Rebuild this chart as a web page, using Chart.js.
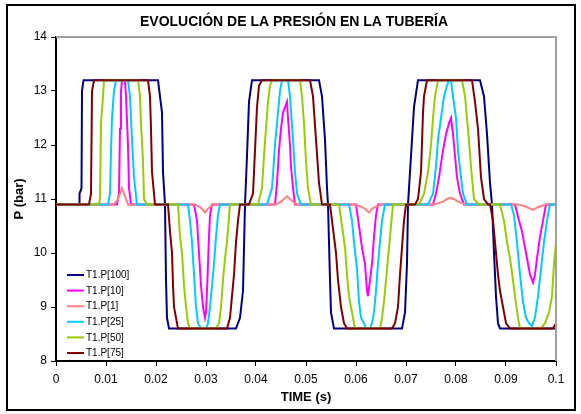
<!DOCTYPE html>
<html>
<head>
<meta charset="utf-8">
<script src="https://cdn.jsdelivr.net/npm/chart.js@4.4.0/dist/chart.umd.min.js"></script>
<style>
  html, body { margin: 0; padding: 0; background: #fff; }
</style>
</head>
<body>
<canvas id="chart" width="581" height="414"></canvas>
<script>
// series names and colours, in the order of the legend
const seriesLabels = ['T1.P[100]', 'T1.P[10]', 'T1.P[1]', 'T1.P[25]', 'T1.P[50]', 'T1.P[75]'];
const seriesColors = ['#000080', '#FF00FF', '#FF8080', '#00CCFF', '#99CC00', '#800000'];
const xTickLabels = ['0', '0.01', '0.02', '0.03', '0.04', '0.05', '0.06', '0.07', '0.08', '0.09', '0.1'];

// [time (s), pressure (bar)]
const P100 = [
  [0, 10.9], [0.0046, 10.9], [0.0047, 11.1], [0.0051, 11.2], [0.0052, 13.0], [0.0055, 13.2],
  [0.0204, 13.2], [0.0208, 12.9], [0.0212, 12.6], [0.0214, 11.5], [0.0218, 10.9], [0.022, 9.5], [0.0222, 8.8], [0.0226, 8.6],
  [0.036, 8.6], [0.0368, 8.8], [0.0374, 9.3], [0.0378, 10.9], [0.0382, 11.8], [0.0386, 12.8], [0.0392, 13.2],
  [0.0526, 13.2], [0.0532, 12.9], [0.0538, 12.1], [0.0542, 11.2], [0.0544, 10.9], [0.0548, 9.5], [0.055, 8.9], [0.0556, 8.6],
  [0.0692, 8.6], [0.0698, 8.9], [0.0702, 9.8], [0.0704, 10.9], [0.071, 11.8], [0.0716, 12.7], [0.0724, 13.2],
  [0.0848, 13.2], [0.0856, 12.9], [0.0862, 12.2], [0.0868, 11.3], [0.0872, 10.9], [0.0876, 10.0], [0.088, 9.2], [0.0884, 8.7], [0.0888, 8.6],
  [0.1, 8.6]
];
const P10 = [
  [0, 10.9], [0.0122, 10.9], [0.0126, 11.1], [0.0128, 12.3], [0.013, 13.0], [0.0132, 13.2], [0.0138, 13.2], [0.014, 12.9], [0.0144, 12.0], [0.0146, 11.2], [0.015, 10.9],
  [0.0276, 10.9], [0.0282, 10.6], [0.0286, 10.0], [0.029, 9.4], [0.0294, 9.0], [0.0298, 8.8], [0.03, 8.9], [0.0302, 9.3], [0.0304, 9.8], [0.0306, 10.3], [0.0308, 10.7], [0.0312, 10.9],
  [0.0438, 10.9], [0.0442, 11.3], [0.0446, 11.9], [0.045, 12.3], [0.0454, 12.6], [0.0458, 12.7], [0.0462, 12.8], [0.0464, 12.5], [0.0468, 12.0], [0.047, 11.6], [0.0474, 11.2], [0.0478, 10.9],
  [0.06, 10.9], [0.0606, 10.5], [0.0612, 10.1], [0.0618, 9.8], [0.0622, 9.3], [0.0624, 9.2], [0.0628, 9.5], [0.0632, 9.8], [0.0636, 10.3], [0.064, 10.7], [0.0644, 10.9],
  [0.0754, 10.9], [0.076, 11.1], [0.0766, 11.4], [0.0774, 11.9], [0.078, 12.2], [0.0786, 12.4], [0.079, 12.5], [0.0794, 12.2], [0.0798, 11.8], [0.0802, 11.4], [0.0808, 11.1], [0.0816, 10.9],
  [0.0918, 10.9], [0.0926, 10.6], [0.0932, 10.4], [0.0938, 10.1], [0.0944, 9.8], [0.0948, 9.6], [0.0954, 9.45], [0.0958, 9.6], [0.0962, 9.9], [0.0968, 10.3], [0.0974, 10.6], [0.098, 10.9],
  [0.1, 10.9]
];
const P1 = [
  [0, 10.9], [0.0116, 10.9], [0.0124, 11.0], [0.0128, 11.1], [0.0132, 11.2], [0.0136, 11.1], [0.014, 11.0], [0.0144, 10.9],
  [0.0278, 10.9], [0.0288, 10.85], [0.0294, 10.8], [0.0298, 10.75], [0.0302, 10.8], [0.0308, 10.85], [0.0314, 10.9],
  [0.044, 10.9], [0.045, 10.95], [0.0456, 11.0], [0.0462, 11.05], [0.0468, 11.0], [0.0474, 10.95], [0.0482, 10.9],
  [0.0594, 10.9], [0.0608, 10.87], [0.0618, 10.82], [0.0626, 10.75], [0.0632, 10.82], [0.0642, 10.87], [0.0654, 10.9],
  [0.0758, 10.9], [0.0774, 10.95], [0.0782, 11.0], [0.0788, 11.02], [0.0796, 11.0], [0.0804, 10.95], [0.082, 10.9],
  [0.0924, 10.9], [0.0936, 10.87], [0.0944, 10.84], [0.0954, 10.8], [0.0962, 10.84], [0.097, 10.87], [0.0982, 10.9],
  [0.1, 10.9]
];
const P25 = [
  [0, 10.9], [0.0104, 10.9], [0.0108, 11.1], [0.011, 11.9], [0.0112, 12.5], [0.0116, 13.0], [0.012, 13.2], [0.0144, 13.2], [0.0148, 12.9], [0.0152, 12.1], [0.0156, 11.4], [0.0162, 10.9],
  [0.0264, 10.9], [0.0268, 10.6], [0.0272, 10.2], [0.0276, 9.6], [0.028, 9.0], [0.0284, 8.7], [0.029, 8.6], [0.03, 8.6], [0.0304, 8.7], [0.0308, 9.0], [0.0312, 9.4], [0.0316, 9.8], [0.032, 10.3], [0.0324, 10.7], [0.0328, 10.9],
  [0.0422, 10.9], [0.0432, 11.2], [0.0438, 12.0], [0.0444, 12.6], [0.0448, 13.0], [0.0452, 13.2], [0.0464, 13.2], [0.0468, 12.9], [0.0474, 12.1], [0.0478, 11.5], [0.0482, 11.1], [0.049, 10.9],
  [0.0586, 10.9], [0.0592, 10.6], [0.0596, 10.2], [0.0602, 9.7], [0.0606, 9.1], [0.061, 8.8], [0.0616, 8.7], [0.062, 8.6], [0.0628, 8.6], [0.0632, 8.7], [0.0636, 8.9], [0.064, 9.3], [0.0644, 9.8], [0.0648, 10.2], [0.0652, 10.6], [0.0658, 10.9],
  [0.0744, 10.9], [0.0754, 11.1], [0.076, 11.6], [0.0764, 12.1], [0.077, 12.5], [0.0776, 12.9], [0.0782, 13.1], [0.0786, 13.2], [0.079, 13.2], [0.0794, 12.9], [0.08, 12.5], [0.0804, 11.9], [0.081, 11.4], [0.0814, 11.1], [0.0822, 10.9],
  [0.091, 10.9], [0.0916, 10.7], [0.0922, 10.2], [0.0928, 9.6], [0.0934, 9.1], [0.094, 8.8], [0.0946, 8.7], [0.0952, 8.65], [0.0958, 8.8], [0.0964, 9.2], [0.097, 9.7], [0.0976, 10.2], [0.0982, 10.6], [0.0988, 10.9],
  [0.1, 10.9]
];
const P50 = [
  [0, 10.9], [0.0086, 10.9], [0.0088, 11.0], [0.009, 12.4], [0.0094, 12.9], [0.0096, 13.2], [0.0164, 13.2], [0.0168, 12.9], [0.017, 12.4], [0.0174, 11.7], [0.0176, 11.0], [0.0182, 10.9],
  [0.0244, 10.9], [0.0248, 10.3], [0.0252, 10.0], [0.0256, 9.4], [0.026, 9.0], [0.0264, 8.7], [0.0268, 8.6], [0.032, 8.6], [0.0326, 8.7], [0.033, 9.0], [0.0334, 9.5], [0.0338, 9.9], [0.0342, 10.2], [0.0348, 10.9],
  [0.0404, 10.9], [0.0412, 11.2], [0.0416, 11.8], [0.042, 12.3], [0.0424, 12.8], [0.0428, 13.1], [0.0432, 13.2], [0.0488, 13.2], [0.0492, 12.9], [0.0496, 12.4], [0.05, 11.7], [0.0504, 11.2], [0.051, 10.9],
  [0.0566, 10.9], [0.0572, 10.5], [0.0578, 10.1], [0.0582, 9.6], [0.0586, 9.2], [0.0592, 8.9], [0.0598, 8.6], [0.0648, 8.6], [0.0652, 8.8], [0.0656, 9.1], [0.066, 9.5], [0.0664, 9.9], [0.0668, 10.3], [0.0674, 10.9],
  [0.0726, 10.9], [0.0736, 11.1], [0.0744, 11.5], [0.075, 12.0], [0.0754, 12.5], [0.0758, 12.9], [0.0764, 13.2], [0.0812, 13.2], [0.0818, 12.9], [0.0824, 12.3], [0.083, 11.6], [0.0836, 11.0], [0.0846, 10.9],
  [0.0888, 10.9], [0.0896, 10.6], [0.0902, 10.2], [0.0908, 9.9], [0.0914, 9.5], [0.0918, 9.2], [0.0924, 8.8], [0.0928, 8.6], [0.097, 8.6], [0.0978, 8.7], [0.0986, 8.9], [0.0992, 9.2], [0.0996, 9.8],
  [0.1, 10.2]
];
const P75 = [
  [0, 10.9], [0.0066, 10.9], [0.007, 11.1], [0.0072, 13.0], [0.0076, 13.2], [0.0184, 13.2], [0.0188, 12.9], [0.019, 12.3], [0.0192, 11.5], [0.0198, 10.9],
  [0.0224, 10.9], [0.0228, 10.4], [0.0232, 10.0], [0.0234, 9.4], [0.0236, 9.0], [0.024, 8.8], [0.0244, 8.6], [0.0342, 8.6], [0.0348, 8.8], [0.0352, 9.2], [0.0356, 9.6], [0.036, 10.2], [0.0364, 10.6], [0.0368, 10.9],
  [0.0386, 10.9], [0.0394, 11.1], [0.0398, 11.9], [0.0402, 12.7], [0.0406, 13.1], [0.0412, 13.2], [0.0508, 13.2], [0.0514, 12.9], [0.052, 12.1], [0.0526, 11.3], [0.0532, 10.9],
  [0.0548, 10.9], [0.0552, 10.6], [0.056, 10.0], [0.0564, 9.5], [0.057, 9.0], [0.0576, 8.7], [0.0582, 8.6], [0.0672, 8.6], [0.0678, 8.7], [0.0684, 9.0], [0.0688, 9.6], [0.0692, 10.1], [0.0696, 10.6], [0.07, 10.9],
  [0.0718, 10.9], [0.0724, 11.0], [0.073, 11.5], [0.0734, 12.6], [0.0736, 12.9], [0.0742, 13.2], [0.0832, 13.2], [0.0838, 12.8], [0.0844, 12.3], [0.085, 11.4], [0.0856, 11.0], [0.0864, 10.9],
  [0.0868, 10.9], [0.0874, 10.6], [0.0878, 10.2], [0.0884, 9.6], [0.0888, 9.3], [0.0894, 9.0], [0.09, 8.7], [0.0908, 8.6], [0.0994, 8.6],
  [0.1, 8.7]
];
const seriesData = [P100, P10, P1, P25, P50, P75];

const FONT = "'Liberation Sans', Arial, sans-serif";

// white page, grey plot border on top/right, legend inside the plot, black frame
const excelLook = {
  id: 'excelLook',
  beforeDraw(chart) {
    const ctx = chart.ctx;
    ctx.save();
    ctx.fillStyle = '#fff';
    ctx.fillRect(0, 0, chart.width, chart.height);
    ctx.restore();
  },
  afterDatasetsDraw(chart) {
    const { ctx, chartArea: a } = chart;
    ctx.save();
    ctx.strokeStyle = '#a0a0a0';
    ctx.lineWidth = 2;
    ctx.beginPath();
    ctx.moveTo(a.left, a.top);
    ctx.lineTo(a.right, a.top);
    ctx.lineTo(a.right, a.bottom);
    ctx.stroke();
    ctx.restore();
  },
  afterDraw(chart) {
    const { ctx, chartArea: a } = chart;
    ctx.save();
    const x0 = a.left + 11;
    const y0 = a.bottom - 86;
    ctx.font = '10px ' + FONT;
    ctx.textBaseline = 'middle';
    ctx.fillStyle = '#000';
    seriesLabels.forEach((label, i) => {
      const y = y0 + i * 15.6;
      ctx.strokeStyle = seriesColors[i];
      ctx.lineWidth = 2;
      ctx.beginPath();
      ctx.moveTo(x0, y);
      ctx.lineTo(x0 + 17, y);
      ctx.stroke();
      ctx.fillText(label, x0 + 19, y + 0.5);
    });
    ctx.strokeStyle = '#000';
    ctx.lineWidth = 2;
    ctx.strokeRect(7, 5, 568, 405);
    ctx.restore();
  }
};

new Chart(document.getElementById('chart'), {
  type: 'line',
  data: {
    datasets: seriesData.map((pts, i) => ({
      label: seriesLabels[i],
      data: pts.map(([t, p]) => ({ x: t, y: p })),
      borderColor: seriesColors[i],
      borderWidth: 2,
      pointRadius: 0,
      tension: 0,
      fill: false,
      order: seriesData.length - 1 - i
    }))
  },
  options: {
    responsive: false,
    animation: false,
    devicePixelRatio: 1,
    // left padding keeps the title centred where the original has it
    layout: { padding: { left: 32, right: 25, top: 0, bottom: 6 } },
    plugins: {
      legend: { display: false },
      tooltip: { enabled: false },
      title: {
        display: true,
        text: 'EVOLUCIÓN DE LA PRESIÓN EN LA TUBERÍA',
        color: '#000',
        font: { family: FONT, size: 14, weight: 'bold' },
        padding: { top: 13.6, bottom: 6.6 }
      }
    },
    scales: {
      x: {
        type: 'linear',
        min: 0, max: 0.1,
        afterFit: s => { s.height = 47; },
        ticks: {
          stepSize: 0.01, autoSkip: false, maxRotation: 0,
          callback: (v, i) => xTickLabels[i],
          color: '#000', padding: 6, font: { family: FONT, size: 12 }
        },
        grid: { drawOnChartArea: false, drawTicks: true, tickLength: 5, color: '#000' },
        border: { color: '#000', width: 2 },
        title: { display: true, text: 'TIME (s)', color: '#000', font: { family: FONT, size: 13, weight: 'bold' }, padding: { top: 0, bottom: 2.5 } }
      },
      y: {
        min: 8, max: 14,
        afterFit: s => { s.width = 24; },
        ticks: { stepSize: 1, color: '#000', padding: 4, font: { family: FONT, size: 12 } },
        grid: { drawOnChartArea: false, drawTicks: true, tickLength: 5, color: '#000' },
        border: { color: '#000', width: 2 },
        // pulled left, out of the narrowed axis box
        title: { display: true, text: 'P (bar)', color: '#000', font: { family: FONT, size: 13, weight: 'bold' }, padding: { top: -20.5, bottom: 0 } }
      }
    }
  },
  plugins: [excelLook]
});
</script>
</body>
</html>
